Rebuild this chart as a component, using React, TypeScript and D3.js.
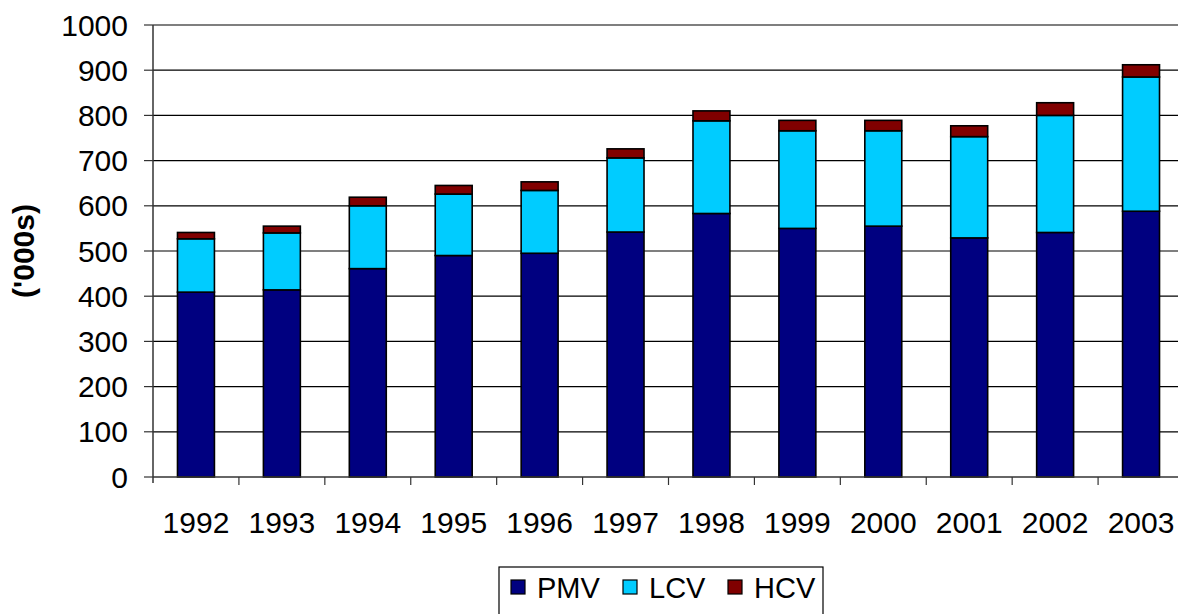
import * as d3 from "d3";

const WIDTH = 1178;
const HEIGHT = 614;

const years = ["1992", "1993", "1994", "1995", "1996", "1997", "1998", "1999", "2000", "2001", "2002", "2003"];
const pmv = [409, 414, 461, 490, 495, 542, 583, 550, 555, 529, 541, 588];
const lcv = [118, 126, 139, 136, 139, 164, 205, 216, 211, 224, 259, 297];
const hcv = [14, 15, 19, 19, 19, 20, 22, 23, 23, 24, 28, 27];
const seriesNames = ["PMV", "LCV", "HCV"];
const seriesColors = ["#000080", "#00CCFF", "#800000"];
const yTicks = [0, 100, 200, 300, 400, 500, 600, 700, 800, 900, 1000];

const margin = { left: 153, top: 25, plotRight: 1184, bottom: 477 };

export default function App() {
  const rows = years.map((y, i) => ({ year: y, PMV: pmv[i], LCV: lcv[i], HCV: hcv[i] }));
  const stacked = d3.stack<any>().keys(seriesNames)(rows);

  const x = d3.scaleBand().domain(years).range([margin.left, margin.plotRight]).paddingInner(0.57).paddingOuter(0.285);
  const y = d3.scaleLinear().domain([0, 1000]).range([margin.bottom, margin.top]);
  const step = x.step();

  const font = "Liberation Sans, Arial, sans-serif";

  return (
    <svg
      width={WIDTH}
      height={HEIGHT}
      style={{ position: "absolute", left: 0, top: 0, background: "white" }}
      fontFamily={font}
    >
      {/* gridlines */}
      {yTicks.filter((t) => t > 0).map((t) => (
        <line key={t} x1={margin.left} x2={margin.plotRight} y1={y(t)} y2={y(t)} stroke="#000" strokeWidth={1.2} />
      ))}

      {/* bars */}
      {stacked.map((s, si) => (
        <g key={s.key}>
          {s.map((d, i) => (
            <rect
              key={i}
              x={x(years[i])}
              width={x.bandwidth()}
              y={y(d[1])}
              height={y(d[0]) - y(d[1])}
              fill={seriesColors[si]}
              stroke="#000"
              strokeWidth={1.6}
            />
          ))}
        </g>
      ))}

      {/* y axis */}
      <line x1={margin.left} x2={margin.left} y1={margin.top} y2={margin.bottom + 6} stroke="#333" strokeWidth={1.5} />
      {yTicks.map((t) => (
        <g key={t}>
          <line x1={margin.left - 9} x2={margin.left} y1={y(t)} y2={y(t)} stroke="#333" strokeWidth={1.2} />
          <text x={128} y={y(t)} textAnchor="end" dominantBaseline="central" fontSize={30}>
            {t}
          </text>
        </g>
      ))}

      {/* x axis */}
      <line x1={margin.left} x2={margin.plotRight} y1={margin.bottom} y2={margin.bottom} stroke="#333" strokeWidth={1.5} />
      {years.map((yr, i) => (
        <g key={yr}>
          <line
            x1={margin.left + step * (i + 1)}
            x2={margin.left + step * (i + 1)}
            y1={margin.bottom}
            y2={margin.bottom + 8}
            stroke="#333"
            strokeWidth={1.2}
          />
          <text x={x(yr)! + x.bandwidth() / 2} y={522} textAnchor="middle" dominantBaseline="central" fontSize={30}>
            {yr}
          </text>
        </g>
      ))}

      {/* y label */}
      <text
        transform={`translate(23, ${(margin.top + margin.bottom) / 2}) rotate(-90)`}
        textAnchor="middle"
        dominantBaseline="central"
        fontSize={30}
        fontWeight="bold"
      >
        ('000s)
      </text>

      {/* legend */}
      <rect x={499} y={567} width={324} height={60} fill="white" stroke="#000" strokeWidth={1.2} />
      {seriesNames.map((name, i) => {
        const lx = [511, 623, 728][i];
        return (
          <g key={name}>
            <rect x={lx} y={580} width={14} height={14} fill={seriesColors[i]} stroke="#000" strokeWidth={1.2} />
            <text x={lx + 26} y={588} dominantBaseline="central" fontSize={29}>
              {name}
            </text>
          </g>
        );
      })}
    </svg>
  );
}
